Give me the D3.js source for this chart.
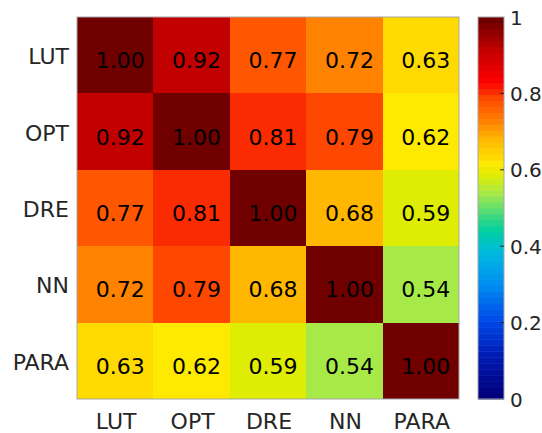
<!DOCTYPE html>
<html>
<head>
<meta charset="utf-8">
<script src="https://cdn.jsdelivr.net/npm/d3@7"></script>
<style>
  html, body { margin: 0; padding: 0; background: #fff; }
  svg { display: block; font-family: "DejaVu Sans", sans-serif; }
</style>
</head>
<body>
<svg id="chart" width="542" height="433"></svg>
<script>
// Methods compared pairwise
const methods = ["LUT", "OPT", "DRE", "NN", "PARA"];

// Correlation matrix, one row per method
const rowLUT  = [1.00, 0.92, 0.77, 0.72, 0.63];
const rowOPT  = [0.92, 1.00, 0.81, 0.79, 0.62];
const rowDRE  = [0.77, 0.81, 1.00, 0.68, 0.59];
const rowNN   = [0.72, 0.79, 0.68, 1.00, 0.54];
const rowPARA = [0.63, 0.62, 0.59, 0.54, 1.00];
const matrix = [rowLUT, rowOPT, rowDRE, rowNN, rowPARA];

// Colour bar ticks
const colorTicks = [0, 0.2, 0.4, 0.6, 0.8, 1];

// Jet-like colour map stops, sampled into 64 discrete levels
const cmapStops = [0, 0.10, 0.20, 0.30, 0.38, 0.44, 0.48, 0.54, 0.59, 0.62, 0.63, 0.68, 0.72, 0.77, 0.79, 0.81, 0.835, 0.92, 1.0];
const cmapColors = ["#00007a", "#0018b0", "#0048e8", "#0090f0", "#00b8e0", "#00d0a0", "#40d880", "#a8ea48",
                    "#e2ec00", "#ffea00", "#ffde00", "#ffba00", "#ff8c00", "#ff5c00", "#ff4e00", "#fa2a00",
                    "#ff0000", "#c30000", "#700000"];
const nLevels = 64;

const svg = d3.select("#chart");
const plot = { left: 77, right: 459, top: 17, bottom: 399 };

const x = d3.scaleBand().domain(methods).range([plot.left, plot.right]).padding(0);
const y = d3.scaleBand().domain(methods).range([plot.top, plot.bottom]).padding(0);

const smooth = d3.scaleLinear().domain(cmapStops).range(cmapColors).interpolate(d3.interpolateRgb).clamp(true);
const levels = d3.range(nLevels).map(i => smooth(i / (nLevels - 1)));
const color = d3.scaleQuantize().domain([0, 1]).range(levels);

// Cells
const cells = [];
matrix.forEach((row, i) => row.forEach((v, j) => cells.push({ r: methods[i], c: methods[j], v })));

svg.append("g").selectAll("rect").data(cells).join("rect")
  .attr("x", d => x(d.c))
  .attr("y", d => y(d.r))
  .attr("width", x.bandwidth())
  .attr("height", y.bandwidth())
  .attr("fill", d => color(d.v))
  .attr("shape-rendering", "crispEdges");

svg.append("g").selectAll("text").data(cells).join("text")
  .attr("x", d => x(d.c) + x.bandwidth() / 2 + 5)
  .attr("y", d => y(d.r) + y.bandwidth() / 2 + 13)
  .attr("text-anchor", "middle")
  .attr("font-size", 22)
  .attr("fill", "#000")
  .text(d => d.v.toFixed(2));

svg.append("rect")
  .attr("x", plot.left).attr("y", plot.top)
  .attr("width", plot.right - plot.left).attr("height", plot.bottom - plot.top)
  .attr("fill", "none").attr("stroke", "#a6a6a6").attr("stroke-width", 1);

// Row labels
svg.append("g").selectAll("text").data(methods).join("text")
  .attr("x", plot.left - 8)
  .attr("y", d => y(d) + y.bandwidth() / 2 + 9)
  .attr("text-anchor", "end")
  .attr("font-size", 22)
  .attr("fill", "#262626")
  .text(d => d);

// Column labels
svg.append("g").selectAll("text").data(methods).join("text")
  .attr("x", d => x(d) + x.bandwidth() / 2 + 1)
  .attr("y", plot.bottom + 30)
  .attr("text-anchor", "middle")
  .attr("font-size", 22)
  .attr("fill", "#262626")
  .text(d => d);

// Colour bar
const cb = { x0: 478, x1: 504 };
const cy = d3.scaleLinear().domain([0, 1]).range([plot.bottom, plot.top]);
const bandH = (plot.bottom - plot.top) / nLevels;
svg.append("g").selectAll("rect").data(levels).join("rect")
  .attr("x", cb.x0)
  .attr("y", (d, i) => cy((i + 1) / nLevels))
  .attr("width", cb.x1 - cb.x0)
  .attr("height", bandH + 0.5)
  .attr("fill", d => d);

svg.append("rect")
  .attr("x", cb.x0).attr("y", plot.top)
  .attr("width", cb.x1 - cb.x0).attr("height", plot.bottom - plot.top)
  .attr("fill", "none").attr("stroke", "#a6a6a6").attr("stroke-width", 1);

const cbTicks = svg.append("g").selectAll("g").data(colorTicks).join("g");
cbTicks.filter(d => d > 0 && d < 1).append("line")
  .attr("x1", cb.x1 - 4).attr("x2", cb.x1)
  .attr("y1", d => cy(d)).attr("y2", d => cy(d))
  .attr("stroke", "#262626").attr("stroke-width", 1);
cbTicks.append("text")
  .attr("x", cb.x1 + 6)
  .attr("y", d => cy(d) + 7.5)
  .attr("font-size", 20)
  .attr("fill", "#262626")
  .text(d => d3.format("~g")(d));
</script>
</body>
</html>
